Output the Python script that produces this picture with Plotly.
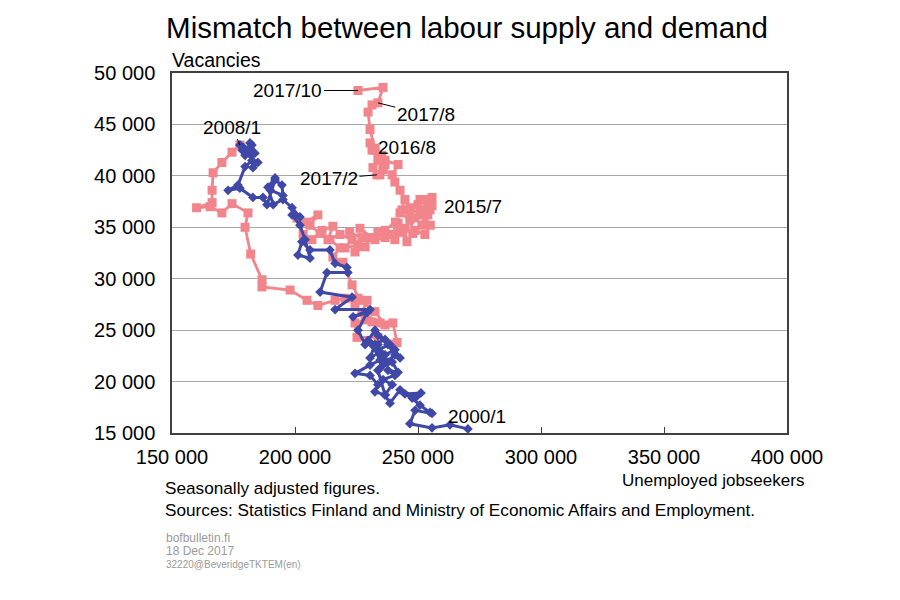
import plotly.graph_objects as go

# Blue series: 2000/1 - 2008/1 (unemployed jobseekers, vacancies), thousands
blue_x = [270.3, 263.0, 255.7, 246.7, 248.8, 255.7, 254.9, 250.8, 247.6, 244.7, 251.2, 249.2,
          242.7, 238.6, 236.6, 239.5, 235.8, 240.6, 237.8, 241.9, 239.5, 234.6, 236.6, 240.6,
          242.7, 238.6, 233.7, 231.3, 234.6, 230.5, 224.4, 230.5, 233.7, 232.5, 236.6, 233.7,
          237.8, 234.6, 230.5, 232.5, 236.6, 233.7, 237.8, 240.6, 236.6, 233.7, 229.7, 232.5,
          228.5, 225.6, 229.3, 223.6, 230.5, 216.3, 223.2, 210.2, 213.0, 221.5, 221.1, 216.3,
          214.2, 206.1, 202.8, 201.2, 206.1, 204.1, 202.0, 198.8, 202.0, 198.8, 195.1, 191.1,
          189.0, 191.9, 190.0, 195.1, 194.7, 191.9, 188.6, 187.0, 182.9, 177.6, 172.8, 176.8,
          179.7, 182.5, 184.9, 182.9, 182.1, 181.1, 183.7, 182.5, 181.7, 179.7, 178.5, 178.9,
          177.6]
blue_y = [15.4, 15.8, 15.5, 15.9, 17.2, 16.9, 17.0, 17.7, 18.4, 18.8, 18.9, 18.5,
          19.2, 17.9, 18.7, 19.7, 20.2, 20.6, 21.1, 20.9, 21.9, 21.3, 22.6, 23.1,
          22.3, 23.6, 23.1, 23.6, 22.1, 21.6, 20.8, 20.6, 19.7, 19.0, 18.7, 21.1,
          21.9, 22.9, 22.3, 23.6, 24.1, 24.5, 23.6, 22.6, 21.8, 23.6, 24.0, 25.0,
          23.6, 25.0, 26.7, 26.3, 27.0, 27.0, 28.2, 28.7, 30.6, 30.6, 31.1, 31.5,
          32.8, 32.8, 33.6, 32.3, 32.0, 33.8, 35.2, 36.2, 36.0, 36.9, 37.7, 37.2,
          38.9, 39.8, 38.6, 38.1, 39.1, 39.6, 37.2, 37.9, 37.9, 38.8, 38.6, 39.1,
          40.9, 41.5, 41.3, 40.8, 42.0, 42.5, 42.2, 43.0, 43.2, 42.0, 42.5, 42.8,
          43.0]

# Pink series: 2008/1 - 2017/10, thousands
pink_x = [177.6, 174.4, 170.3, 166.7, 166.3, 166.3, 160.0, 165.5, 170.3, 174.4, 180.9, 179.7,
          182.0, 186.6, 186.6, 198.0, 204.9, 209.3, 216.3, 220.3, 224.4, 225.6, 229.3, 227.2,
          234.6, 239.8, 241.5, 233.7, 225.2, 224.4, 228.5, 231.3, 236.6, 232.5, 226.4, 223.2,
          219.5, 215.4, 218.3, 214.2, 210.2, 206.1, 209.3, 204.1, 200.8, 203.3, 206.9, 211.0,
          215.4, 213.4, 218.3, 223.2, 220.3, 225.6, 222.2, 227.2, 224.4, 228.5, 230.5, 226.4,
          232.5, 236.6, 233.7, 240.0, 240.8, 236.6, 240.6, 242.7, 241.9, 245.5, 244.7, 247.9,
          246.7, 243.5, 248.8, 250.8, 254.0, 251.6, 254.0, 248.8, 252.8, 255.0, 250.0, 252.8,
          254.9, 250.8, 246.7, 250.8, 255.7, 254.0, 255.7, 252.8, 246.7, 242.7, 244.7, 242.7,
          240.6, 239.5, 241.9, 236.6, 235.8, 233.7, 231.3, 230.5, 232.5, 235.3, 236.6, 234.5,
          231.7, 233.3, 235.8, 232.5, 230.5, 229.7, 231.3, 233.7, 235.8, 225.6]
pink_y = [43.0, 42.3, 41.3, 40.3, 38.6, 37.4, 36.9, 37.0, 36.4, 37.3, 36.4, 35.0,
          32.4, 29.9, 29.2, 28.9, 27.9, 27.4, 27.9, 28.1, 27.6, 28.1, 27.9, 26.7,
          25.7, 25.7, 23.8, 24.3, 24.3, 25.7, 26.0, 25.8, 25.5, 26.8, 27.9, 29.4,
          31.6, 32.1, 33.0, 33.8, 34.4, 35.2, 36.2, 35.5, 35.9, 34.3, 33.8, 34.7,
          35.1, 33.8, 34.3, 33.8, 33.0, 33.3, 34.5, 34.0, 32.6, 33.1, 34.0, 34.9,
          33.8, 34.0, 34.5, 34.3, 35.5, 34.7, 33.8, 34.5, 35.4, 33.6, 34.9, 34.4,
          36.2, 36.7, 35.9, 36.7, 36.9, 35.2, 36.2, 34.7, 34.3, 35.2, 37.2, 37.7,
          36.7, 36.2, 36.9, 37.7, 37.9, 37.2, 37.1, 36.5, 35.7, 36.4, 37.7, 38.6,
          39.4, 40.1, 41.1, 41.5, 40.6, 41.5, 42.5, 43.2, 42.7, 42.0, 41.1, 40.1,
          40.8, 40.1, 40.6, 42.5, 44.5, 46.2, 46.9, 47.1, 48.6, 48.3]

x_ticks = [150000, 200000, 250000, 300000, 350000, 400000]
y_ticks = [15000, 20000, 25000, 30000, 35000, 40000, 45000, 50000]

PINK = "#F2848C"
BLUE = "#3F48A6"
FONT = "Liberation Sans, Arial, sans-serif"

bx = [v * 1000 for v in blue_x]
by = [v * 1000 for v in blue_y]
px = [v * 1000 for v in pink_x]
py = [v * 1000 for v in pink_y]

fig = go.Figure()
fig.add_trace(go.Scatter(x=px, y=py, mode="lines+markers",
                         line=dict(color=PINK, width=2.8),
                         marker=dict(symbol="square", size=9, color=PINK),
                         showlegend=False, hoverinfo="skip"))
fig.add_trace(go.Scatter(x=bx, y=by, mode="lines+markers",
                         line=dict(color=BLUE, width=3),
                         marker=dict(symbol="diamond", size=7.5, color=BLUE),
                         showlegend=False, hoverinfo="skip"))

ann_font = dict(family=FONT, size=19, color="#000000")
annotations = [
    dict(x=px[-1], y=py[-1], text="2017/10", ax=-70, ay=0, showarrow=True,
         arrowhead=0, arrowwidth=1, arrowcolor="#000000", standoff=0, font=ann_font),
    dict(x=px[115], y=py[115], text="2017/8", ax=48, ay=12, showarrow=True,
         arrowhead=0, arrowwidth=1, arrowcolor="#000000", standoff=0, font=ann_font),
    dict(x=px[109], y=py[109], text="2017/2", ax=-48, ay=4, showarrow=True,
         arrowhead=0, arrowwidth=1, arrowcolor="#000000", standoff=0, font=ann_font),
    dict(x=bx[-1], y=by[-1], text="2008/1", ax=-8, ay=-18, showarrow=True,
         arrowhead=0, arrowwidth=1, arrowcolor="#000000", standoff=0, font=ann_font),
    dict(x=px[103], y=py[103], text="2016/8", showarrow=False, xshift=37, yshift=-5,
         font=ann_font),
    dict(x=px[90], y=py[90], text="2015/7", showarrow=False, xshift=41, yshift=-1,
         font=ann_font),
    dict(x=bx[0], y=by[0], text="2000/1", showarrow=False, xshift=9, yshift=12,
         font=ann_font),
    dict(xref="paper", yref="paper", x=0, y=1, xanchor="left", yanchor="bottom",
         text="Vacancies", showarrow=False, yshift=0, xshift=-2,
         font=dict(family=FONT, size=19.5, color="#000000")),
    dict(xref="paper", yref="paper", x=1, y=0, xanchor="right", yanchor="top",
         text="Unemployed jobseekers", showarrow=False, xshift=19, yshift=-36,
         font=dict(family=FONT, size=17, color="#000000")),
    dict(xref="paper", yref="paper", x=0, y=0, xanchor="left", yanchor="middle",
         text="Seasonally adjusted figures.", showarrow=False, xshift=-9, yshift=-55,
         font=dict(family=FONT, size=17.2, color="#000000")),
    dict(xref="paper", yref="paper", x=0, y=0, xanchor="left", yanchor="middle",
         text="Sources: Statistics Finland and Ministry of Economic Affairs and Employment.",
         showarrow=False, xshift=-9, yshift=-77,
         font=dict(family=FONT, size=17.2, color="#000000")),
    dict(xref="paper", yref="paper", x=0, y=0, xanchor="left", yanchor="middle",
         text="bofbulletin.fi", showarrow=False, xshift=-8, yshift=-105,
         font=dict(family=FONT, size=12, color="#9A9A9A")),
    dict(xref="paper", yref="paper", x=0, y=0, xanchor="left", yanchor="middle",
         text="18 Dec 2017", showarrow=False, xshift=-8, yshift=-118,
         font=dict(family=FONT, size=12, color="#9A9A9A")),
    dict(xref="paper", yref="paper", x=0, y=0, xanchor="left", yanchor="middle",
         text="32220@BeveridgeTKTEM(en)", showarrow=False, xshift=-8, yshift=-131,
         font=dict(family=FONT, size=10, color="#9A9A9A")),
]

fig.update_layout(
    width=900, height=600,
    margin=dict(l=164, r=121, t=65, b=175),
    paper_bgcolor="#FFFFFF", plot_bgcolor="#FFFFFF",
    separators=", ",
    font=dict(family=FONT, color="#000000"),
    title=dict(text="Mismatch between labour supply and demand",
               x=0.51, xanchor="center", y=0.968, yanchor="middle",
               font=dict(family=FONT, size=29.5, color="#000000")),
    xaxis=dict(range=[150000, 400000], tickvals=x_ticks, tickformat=",d",
               showgrid=False, zeroline=False,
               showline=True, linecolor="#404040", linewidth=1.5, mirror=True,
               ticks="inside", ticklen=6, tickcolor="#404040",
               ticklabelstandoff=5,
               tickfont=dict(family=FONT, size=20, color="#000000")),
    yaxis=dict(range=[15000, 50000], tickvals=y_ticks, tickformat=",d",
               showgrid=True, gridcolor="#A8A8A8", gridwidth=1, zeroline=False,
               showline=True, linecolor="#404040", linewidth=1.5, mirror=True,
               ticks="", ticklabelstandoff=11,
               tickfont=dict(family=FONT, size=20, color="#000000")),
    annotations=annotations,
)

fig.write_html("out.html")
